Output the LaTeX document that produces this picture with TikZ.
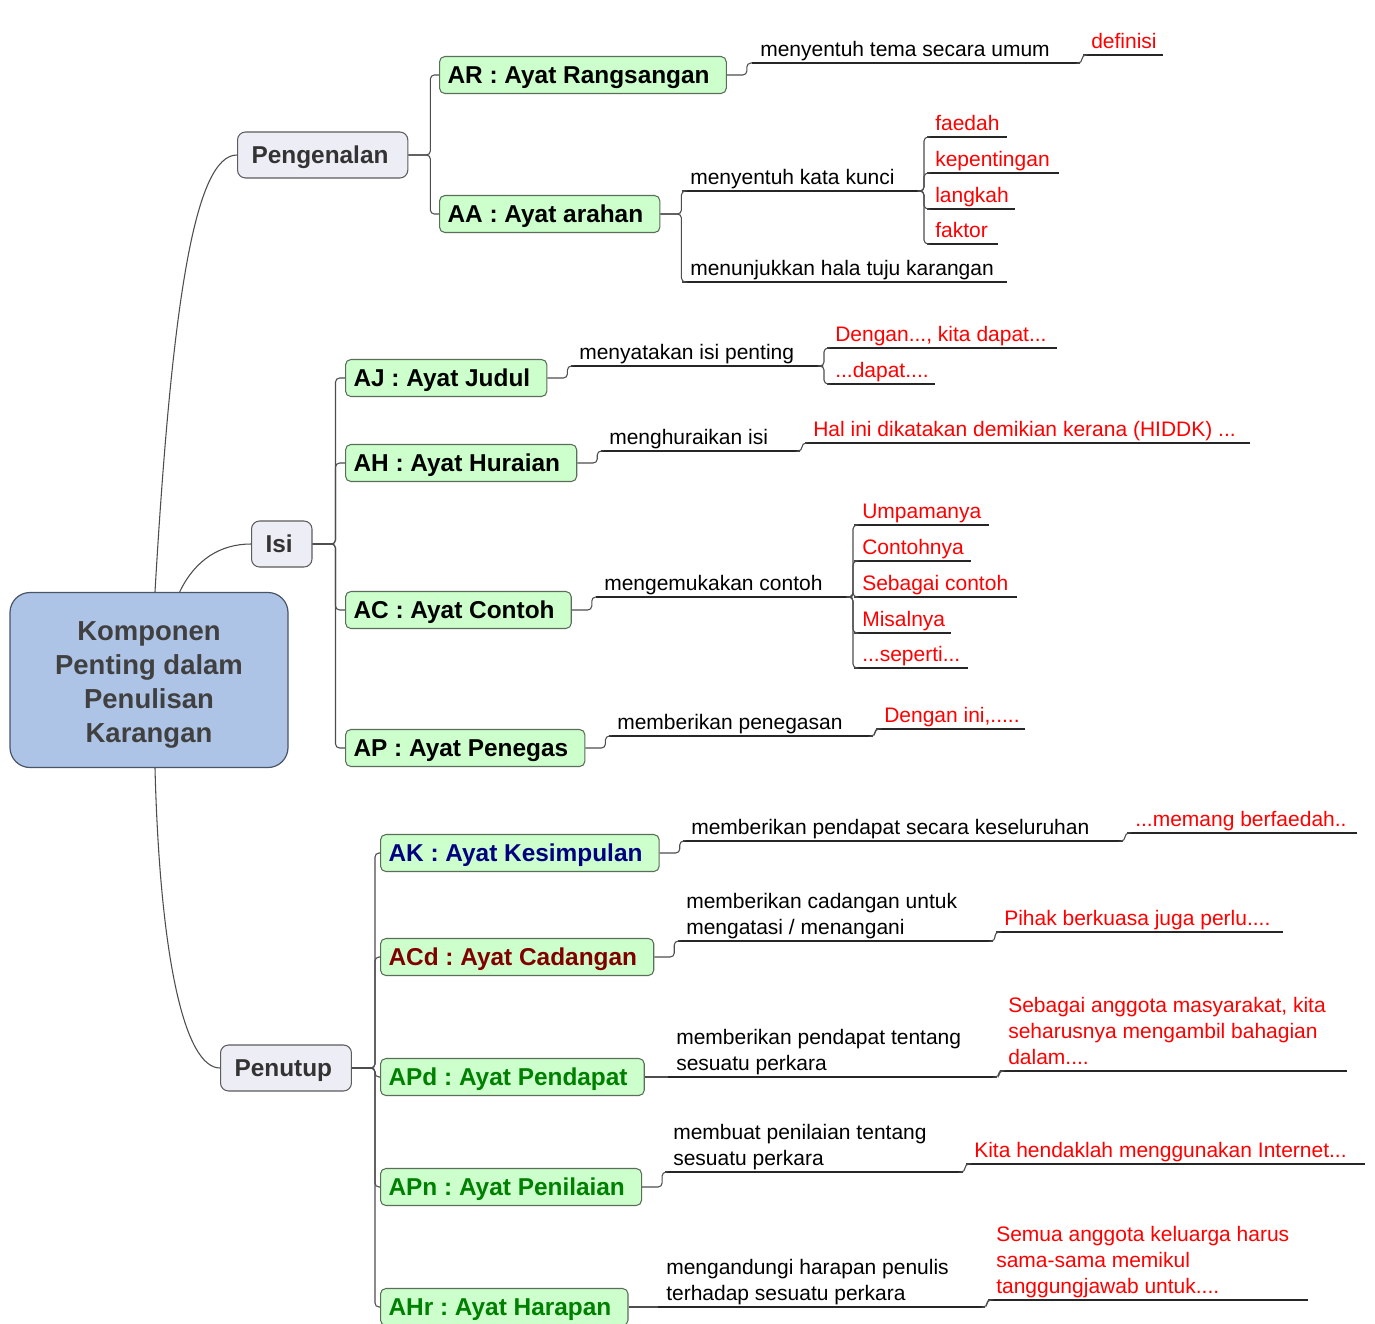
\documentclass[tikz,border=0pt]{standalone}
\usepackage{fontspec}
\setmainfont{Liberation Sans}
\usetikzlibrary{positioning}
\definecolor{rootblue}{HTML}{AEC4E6}
\definecolor{rootedge}{HTML}{4A5468}
\definecolor{topicgray}{HTML}{EDEDF5}
\definecolor{topicedge}{HTML}{5C5C5C}
\definecolor{mgreen}{HTML}{CCFFCC}
\definecolor{mgreenedge}{HTML}{5A6E5A}
\definecolor{linkgray}{HTML}{4D4D4D}
\definecolor{mnavy}{HTML}{000080}
\definecolor{mmaroon}{HTML}{800000}
\definecolor{mdgreen}{HTML}{008000}
\definecolor{mred}{HTML}{FF0000}
\frenchspacing
\tikzset{root/.style = {draw=rootedge, fill=rootblue, rounded corners=15pt, line width=0.9pt,
                        minimum width=208.5pt, minimum height=131.25pt, align=center,
                        text=black!75, font=\fontsize{20.6}{25.5}\selectfont\bfseries},
         topic/.style = {draw=topicedge, fill=topicgray, rounded corners=6pt, line width=0.8pt,
                         minimum height=34.5pt, inner xsep=10.5pt, anchor=west,
                         text height=13.1pt, text depth=0pt,
                         execute at end node=\hspace*{4pt},
                         text=black!80, font=\fontsize{18.3}{22}\selectfont\bfseries},
         sub/.style = {draw=mgreenedge, fill=mgreen, rounded corners=4pt, line width=0.8pt,
                       minimum height=27.75pt, inner xsep=6pt, anchor=west,
                       text height=13.1pt, text depth=0pt,
                       execute at end node=\hspace*{6.5pt},
                       font=\fontsize{18.3}{22}\selectfont\bfseries},
         leaf/.style = {anchor=south west, inner xsep=6pt, inner ysep=1pt, align=left,
                        text depth=4pt, font=\fontsize{15.75}{19.5}\selectfont},
         hint/.style = {leaf, text=mred},
         uline/.style = {line width=0.9pt, black!85},
         link/.style = {line width=0.8pt, linkgray, rounded corners=3pt}}

\begin{document}
\begin{tikzpicture}[x=0.75pt, y=-0.75pt]
  \useasboundingbox [fill=white] (0, 0) rectangle (1375, 1324);

  % centre and the three parts
  \node [root] (root) at (149, 680) {\rule{0pt}{21pt}Komponen\\Penting dalam\\Penulisan\\Karangan};
  \node [topic] (peng) at (237, 155) {Pengenalan};
  \node [topic] (isi) at (251, 544) {Isi};
  \node [topic] (tutup) at (220, 1068) {Penutup};

  \draw [link] ([xshift=4.5pt]root.north) .. controls (172, 300) and (195, 155) .. (peng.west);
  \draw [link] ([xshift=23pt]root.north) .. controls (195, 560) and (220, 544) .. (isi.west);
  \draw [link] ([xshift=4.5pt]root.south) .. controls (160, 960) and (185, 1068) .. (tutup.west);

  % Pengenalan
  \node [sub] (ar) at (439, 75) {AR : Ayat Rangsangan};
  \node [sub] (aa) at (439, 214) {AA : Ayat arahan};
  \foreach \nm in {ar, aa}
    \draw [link] (peng.east) -- ++(22, 0) |- (\nm.west);

  \node [leaf] (tema) at (752, 63) {menyentuh tema secara umum};
  \draw [uline] (tema.south west) -- ++(328, 0) coordinate (tema_e);
  \draw [link] (ar.east) -- ++(20, 0) |- (tema.south west);
  \node [hint] (defn) at (1083, 55) {definisi};
  \draw [uline] (defn.south west) -- ++(80, 0);
  \draw [link] (tema_e) -- ++(2, 0) |- (defn.south west);

  \node [leaf] (kunci) at (682, 191) {menyentuh kata kunci};
  \draw [uline] (kunci.south west) -- ++(240, 0) coordinate (kunci_e);
  \node [leaf] (hala) at (682, 282) {menunjukkan hala tuju karangan};
  \draw [uline] (hala.south west) -- ++(325, 0);
  \foreach \nm in {kunci, hala}
    \draw [link] (aa.east) -- ++(21, 0) |- (\nm.south west);

  \foreach \nm/\yy/\len/\txt in {faedah/137/80/faedah, penting/173/132/kepentingan,
                                 langkah/209/88/langkah, faktor/244/71/faktor} {
    \node [hint] (\nm) at (927, \yy) {\txt};
    \draw [uline] (\nm.south west) -- ++(\len, 0);
    \draw [link] (kunci_e) -- ++(2, 0) |- (\nm.south west);
  }

  % Isi
  \node [sub] (aj) at (345, 378) {AJ : Ayat Judul};
  \node [sub] (ah) at (345, 463) {AH : Ayat Huraian};
  \node [sub] (ac) at (345, 610) {AC : Ayat Contoh};
  \node [sub] (ap) at (345, 748) {AP : Ayat Penegas};
  \foreach \nm in {aj, ah, ac, ap}
    \draw [link] (isi.east) -- ++(23, 0) |- (\nm.west);

  \node [leaf] (nyata) at (571, 366) {menyatakan isi penting};
  \draw [uline] (nyata.south west) -- ++(252, 0) coordinate (nyata_e);
  \draw [link] (aj.east) -- ++(20, 0) |- (nyata.south west);
  \node [hint] (dapat1) at (827, 348) {Dengan..., kita dapat...};
  \draw [uline] (dapat1.south west) -- ++(230, 0);
  \node [hint] (dapat2) at (827, 384) {...dapat....};
  \draw [uline] (dapat2.south west) -- ++(108, 0);
  \foreach \nm in {dapat1, dapat2}
    \draw [link] (nyata_e) -- ++(1, 0) |- (\nm.south west);

  \node [leaf] (urai) at (601, 451) {menghuraikan isi};
  \draw [uline] (urai.south west) -- ++(199, 0) coordinate (urai_e);
  \draw [link] (ah.east) -- ++(20, 0) |- (urai.south west);
  \node [hint] (hiddk) at (805, 443) {Hal ini dikatakan demikian kerana (HIDDK) ...};
  \draw [uline] (hiddk.south west) -- ++(445, 0);
  \draw [link] (urai_e) -- ++(2, 0) |- (hiddk.south west);

  \node [leaf] (contoh) at (596, 597) {mengemukakan contoh};
  \draw [uline] (contoh.south west) -- ++(256, 0) coordinate (contoh_e);
  \draw [link] (ac.east) -- ++(20, 0) |- (contoh.south west);
  \foreach \nm/\yy/\len/\txt in {umpama/525/135/Umpamanya, cth/561/117/Contohnya,
                                 sebagai/597/163/Sebagai contoh, misal/633/97/Misalnya} {
    \node [hint] (\nm) at (854, \yy) {\txt};
    \draw [uline] (\nm.south west) -- ++(\len, 0);
    \draw [link] (contoh_e) -- ++(1, 0) |- (\nm.south west);
  }
  \node [hint] (seperti) at (854, 668) {...seperti...};
  \draw [uline] (seperti.south west) -- ++(114, 0);
  \draw [link] (contoh_e) -- ++(1, 0) |- (seperti.south west);

  \node [leaf] (tegas) at (609, 736) {memberikan penegasan};
  \draw [uline] (tegas.south west) -- ++(264, 0) coordinate (tegas_e);
  \draw [link] (ap.east) -- ++(20, 0) |- (tegas.south west);
  \node [hint] (denganini) at (876, 729) {Dengan ini,.....};
  \draw [uline] (denganini.south west) -- ++(149, 0);
  \draw [link] (tegas_e) -- ++(2, 0) |- (denganini.south west);

  % Penutup
  \node [sub, text=mnavy] (ak) at (380, 853) {AK : Ayat Kesimpulan};
  \node [sub, text=mmaroon] (acd) at (380, 957) {ACd : Ayat Cadangan};
  \node [sub, text=mdgreen] (apd) at (380, 1077) {APd : Ayat Pendapat};
  \node [sub, text=mdgreen] (apn) at (380, 1187) {APn : Ayat Penilaian};
  \node [sub, text=mdgreen] (ahr) at (380, 1307) {AHr : Ayat Harapan};
  \foreach \nm in {ak, acd, apd, apn, ahr}
    \draw [link] (tutup.east) -- ++(23, 0) |- (\nm.west);

  \node [leaf] (simpul) at (683, 841) {memberikan pendapat secara keseluruhan};
  \draw [uline] (simpul.south west) -- ++(440, 0) coordinate (simpul_e);
  \draw [link] (ak.east) -- ++(20, 0) |- (simpul.south west);
  \node [hint] (faedah2) at (1127, 833) {...memang berfaedah..};
  \draw [uline] (faedah2.south west) -- ++(230, 0);
  \draw [link] (simpul_e) -- ++(2, 0) |- (faedah2.south west);

  \node [leaf] (cadang) at (678, 941) {memberikan cadangan untuk\\mengatasi / menangani};
  \draw [uline] (cadang.south west) -- ++(315, 0) coordinate (cadang_e);
  \draw [link] (acd.east) -- ++(20, 0) |- (cadang.south west);
  \node [hint] (pihak) at (996, 932) {Pihak berkuasa juga perlu....};
  \draw [uline] (pihak.south west) -- ++(287, 0);
  \draw [link] (cadang_e) -- ++(2, 0) |- (pihak.south west);

  \node [leaf] (pendapat) at (668, 1077) {memberikan pendapat tentang\\sesuatu perkara};
  \draw [uline] (pendapat.south west) -- ++(329, 0) coordinate (pendapat_e);
  \draw [link] (apd.east) -- (pendapat.south west);
  \node [hint] (anggota) at (1000, 1071) {Sebagai anggota masyarakat, kita\\seharusnya mengambil bahagian\\dalam....};
  \draw [uline] (anggota.south west) -- ++(347, 0);
  \draw [link] (pendapat_e) -- ++(2, 0) |- (anggota.south west);

  \node [leaf] (nilai) at (665, 1172) {membuat penilaian tentang\\sesuatu perkara};
  \draw [uline] (nilai.south west) -- ++(298, 0) coordinate (nilai_e);
  \draw [link] (apn.east) -- ++(20, 0) |- (nilai.south west);
  \node [hint] (internet) at (966, 1164) {Kita hendaklah menggunakan Internet...};
  \draw [uline] (internet.south west) -- ++(399, 0);
  \draw [link] (nilai_e) -- ++(2, 0) |- (internet.south west);

  \node [leaf] (harap) at (658, 1307) {mengandungi harapan penulis\\terhadap sesuatu perkara};
  \draw [uline] (harap.south west) -- ++(327, 0) coordinate (harap_e);
  \draw [link] (ahr.east) -- (harap.south west);
  \node [hint] (keluarga) at (988, 1300) {Semua anggota keluarga harus\\sama-sama memikul\\tanggungjawab untuk....};
  \draw [uline] (keluarga.south west) -- ++(320, 0);
  \draw [link] (harap_e) -- ++(2, 0) |- (keluarga.south west);
\end{tikzpicture}
\end{document}
